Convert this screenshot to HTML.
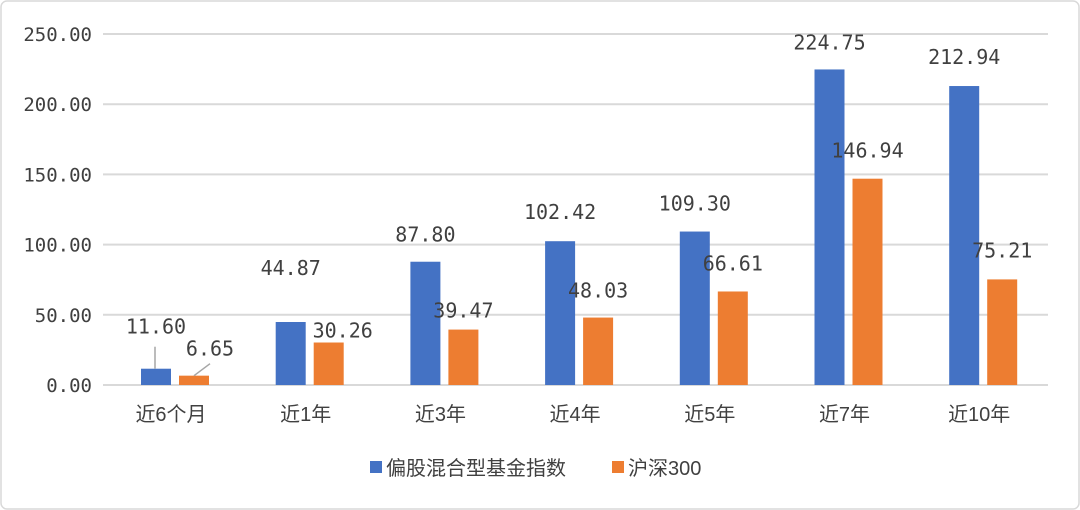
<!DOCTYPE html>
<html><head><meta charset="utf-8"><style>
body{margin:0;background:#fff}
svg{display:block}
text{font-family:"DejaVu Sans Mono","Liberation Mono","Noto Sans CJK SC",monospace;fill:#404040}
.cat,.leg{font-family:"Liberation Sans","Noto Sans CJK SC",sans-serif;}
</style></head><body>
<svg id="c" width="1080" height="510">
<rect x="1" y="1" width="1078" height="508" rx="6" fill="#fff" stroke="#d9d9d9" stroke-width="1.5"/>
</svg>
<script>
const categories=["近6个月","近1年","近3年","近4年","近5年","近7年","近10年"];
const fundValues=[11.60,44.87,87.80,102.42,109.30,224.75,212.94];
const csiValues=[6.65,30.26,39.47,48.03,66.61,146.94,75.21];
const yTicks=[0,50,100,150,200,250];
const seriesNames=["偏股混合型基金指数","沪深300"];
// label offsets (style only)
const fundLblDy=[-42,-54,-27,-29,-28,-27,-29];
const csiLblDy=[-27,-12,-19,-27,-28,-28,-29];
const csiLblDx=[16,14,0,0,0,0,0];
const NS="http://www.w3.org/2000/svg";
const svg=document.getElementById('c');
function mk(t,a,p){const e=document.createElementNS(NS,t);for(const k in a)e.setAttribute(k,a[k]);(p||svg).appendChild(e);return e;}
const y0=385,ppu=1.404;
function yS(v){return y0-v*ppu;}
function xC(i){return 171+i*134.7;}
yTicks.forEach(t=>{
 const l=mk('line',{x1:103,x2:1048,y1:yS(t),y2:yS(t),stroke:'#d9d9d9','stroke-width':2});
 
 
 const tx=mk('text',{x:92,y:yS(t)+7,'text-anchor':'end','font-size':19});
 tx.textContent=t.toFixed(2);
 
 
});
categories.forEach((c,i)=>{
 const cx=xC(i);
 const bx=cx-30,ox=cx+8;
 const fb=mk('rect',{x:bx,y:yS(fundValues[i]),width:30,height:fundValues[i]*ppu,fill:'#4472c4'});
 
 
 const ob=mk('rect',{x:ox,y:yS(csiValues[i]),width:30,height:csiValues[i]*ppu,fill:'#ed7d31'});
 
 
 const fl=mk('text',{x:bx+15,y:yS(fundValues[i])+fundLblDy[i]+7,'text-anchor':'middle','font-size':20});
 fl.textContent=fundValues[i].toFixed(2);
 
 
 const ol=mk('text',{x:ox+15+csiLblDx[i],y:yS(csiValues[i])+csiLblDy[i]+7,'text-anchor':'middle','font-size':20});
 ol.textContent=csiValues[i].toFixed(2);
 
 
 if(i===0){
  const l1=mk('line',{x1:bx+14,x2:bx+14,y1:yS(fundValues[i])+fundLblDy[i]+20,y2:yS(fundValues[i]),stroke:'#a6a6a6','stroke-width':1.5});
  
  
  const l2=mk('line',{x1:ox+15,x2:ox+31,y1:yS(csiValues[i]),y2:yS(csiValues[i])-12,stroke:'#a6a6a6','stroke-width':1.5});
  
  
 }
 const ct=mk('text',{x:cx,y:421,'text-anchor':'middle','font-size':20,class:'cat'});
 ct.textContent=c;
 
 
});
const lg=[[370,'#4472c4',seriesNames[0]],[612,'#ed7d31',seriesNames[1]]];
lg.forEach((d,i)=>{
 const r=mk('rect',{x:d[0],y:461,width:12,height:12,fill:d[1]});
 
 
 const t=mk('text',{x:d[0]+16,y:475,'font-size':20,class:'leg'});
 t.textContent=d[2];
 
 
});
</script>
</body></html>
